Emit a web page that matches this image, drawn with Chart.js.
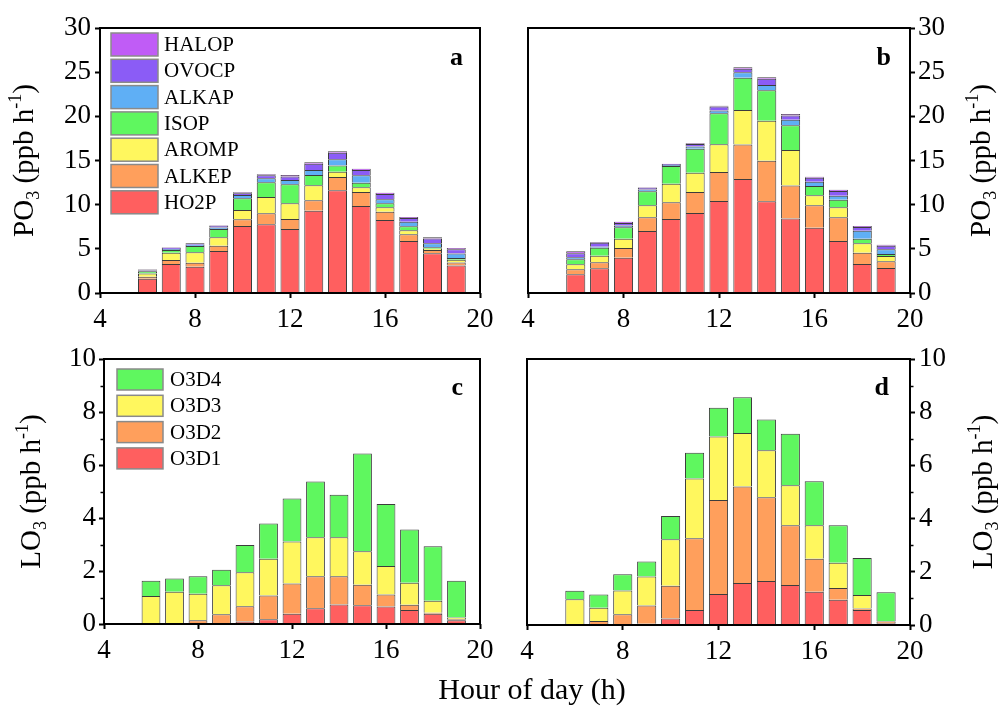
<!DOCTYPE html>
<html><head><meta charset="utf-8">
<script src="https://cdn.jsdelivr.net/npm/chart.js@4.4.0/dist/chart.umd.min.js"></script>
<style>
html,body{margin:0;padding:0;background:#fff;width:1000px;height:708px;overflow:hidden;}
canvas{position:absolute;left:0;top:0;}
</style></head><body>
<canvas id="ca" width="1000" height="708"></canvas>
<canvas id="cb" width="1000" height="708"></canvas>
<canvas id="cc" width="1000" height="708"></canvas>
<canvas id="cd" width="1000" height="708"></canvas>
<script>
const hours = [6,7,8,9,10,11,12,13,14,15,16,17,18,19];
const poLabels = ['HO2P','ALKEP','AROMP','ISOP','ALKAP','OVOCP','HALOP'];
const loLabels = ['O3D1','O3D2','O3D3','O3D4'];
const xTitle = 'Hour of day (h)';
const poTitle = [['PO',0],['3',1],[' (ppb h',0],['-1',2],[')',0]];
const loTitle = [['LO',0],['3',1],[' (ppb h',0],['-1',2],[')',0]];

// Panel a (PO3)
const aHO2P  = [1.60,3.28,2.98,4.76,7.59,7.78,7.25,9.32,11.63,9.85,8.27,5.89,4.50,3.10];
const aALKEP = [0.25,0.45,0.45,0.60,0.75,1.24,1.13,1.18,1.51,1.59,0.94,0.75,0.37,0.36];
const aAROMP = [0.35,0.83,1.17,0.95,1.06,1.85,1.78,1.70,0.60,0.53,0.49,0.46,0.15,0.30];
const aISOP  = [0.25,0.30,0.72,0.94,1.32,1.67,2.15,1.16,0.68,0.52,0.46,0.45,0.15,0.20];
const aALKAP = [0.10,0.12,0.15,0.17,0.38,0.45,0.49,0.57,0.72,0.84,0.45,0.53,0.45,0.50];
const aOVOCP = [0.10,0.15,0.15,0.20,0.20,0.35,0.40,0.70,0.75,0.60,0.60,0.42,0.55,0.50];
const aHALOP = [0.05,0.05,0.05,0.05,0.10,0.10,0.17,0.17,0.16,0.15,0.15,0.11,0.13,0.13];

// Panel b (PO3)
const bHO2P  = [2.12,2.80,4.00,7.02,8.38,9.06,10.42,12.91,10.38,8.42,7.40,5.89,3.28,2.83];
const bALKEP = [0.56,0.68,1.10,1.55,1.89,2.38,3.28,3.89,4.60,3.74,2.53,2.68,1.29,0.76];
const bAROMP = [0.57,0.75,1.05,1.36,2.11,2.18,3.14,3.92,4.53,4.04,1.13,1.13,1.06,0.60];
const bISOP  = [0.56,0.90,1.29,1.59,2.00,2.72,3.51,3.66,3.44,2.80,1.06,0.87,0.52,0.23];
const bALKAP = [0.23,0.10,0.19,0.20,0.10,0.25,0.30,0.61,0.60,0.60,0.48,0.43,0.91,0.53];
const bOVOCP = [0.45,0.45,0.30,0.20,0.12,0.28,0.45,0.40,0.70,0.50,0.45,0.55,0.40,0.40];
const bHALOP = [0.23,0.10,0.14,0.05,0.04,0.08,0.11,0.17,0.18,0.17,0.12,0.15,0.12,0.12];

// Panel c (LO3)
const cO3D1 = [0.00,0.01,0.02,0.03,0.09,0.18,0.39,0.59,0.74,0.71,0.66,0.53,0.39,0.14];
const cO3D2 = [0.02,0.03,0.12,0.34,0.58,0.90,1.14,1.21,1.06,0.77,0.45,0.20,0.03,0.04];
const cO3D3 = [1.04,1.18,1.00,1.09,1.28,1.38,1.58,1.47,1.47,1.27,1.08,0.83,0.46,0.07];
const cO3D4 = [0.57,0.50,0.66,0.59,1.03,1.33,1.63,2.11,1.61,3.68,2.34,2.01,2.05,1.38];

// Panel d (LO3)
const dO3D1 = [0.00,0.02,0.01,0.05,0.24,0.56,1.17,1.58,1.65,1.50,1.25,0.95,0.56,0.07];
const dO3D2 = [0.00,0.13,0.39,0.68,1.24,2.70,3.53,3.63,3.15,2.25,1.24,0.44,0.06,0.06];
const dO3D3 = [0.97,0.50,0.90,1.09,1.74,2.25,2.39,2.01,1.77,1.50,1.26,0.95,0.51,0.02];
const dO3D4 = [0.32,0.50,0.61,0.57,0.88,0.97,1.08,1.34,1.16,1.94,1.65,1.41,1.39,1.08];

const poColors = ['#FF5F5F','#FF9F5C','#FFF75E','#5FF75F','#5FAFF5','#8B5CF6','#C05CF6'];
const loColors = ['#FF5F5F','#FF9F5C','#FFF75E','#5FF75F'];

const SERIF = '"Liberation Serif", "Times New Roman", serif';
const YW = 60, XH = 45;

const decor = {
  id: 'decor',
  afterDraw(chart, args, o) {
    const ctx = chart.ctx, ca = chart.chartArea;
    ctx.save();
    ctx.strokeStyle = '#000'; ctx.lineWidth = 2;
    ctx.strokeRect(ca.left, ca.top, ca.right - ca.left, ca.bottom - ca.top);
    if (o.minor) {
      const ys = chart.scales.y;
      ctx.lineWidth = 1.5;
      for (let v = o.minor.start; v < ys.max; v += o.minor.step) {
        const py = Math.round(ys.getPixelForValue(v)) + 0.5;
        const x0 = o.side === 'left' ? ca.left : ca.right;
        const x1 = o.side === 'left' ? ca.left - 3.5 : ca.right + 3.5;
        ctx.beginPath(); ctx.moveTo(x0, py); ctx.lineTo(x1, py); ctx.stroke();
      }
    }
    if (o.legend) {
      const L = o.legend;
      const ds = chart.data.datasets.slice().reverse();
      ctx.font = L.font + 'px ' + SERIF;
      ctx.textBaseline = 'middle'; ctx.textAlign = 'left';
      ds.forEach((d, i) => {
        const y = L.y + i * L.step;
        ctx.fillStyle = d.backgroundColor;
        ctx.fillRect(L.x, y, L.w, L.h);
        ctx.strokeStyle = '#8a8a8a'; ctx.lineWidth = 1.5;
        ctx.strokeRect(L.x, y, L.w, L.h);
        ctx.fillStyle = '#000';
        ctx.fillText(d.label, L.tx, y + L.h / 2 + 1);
      });
    }
    if (o.letter) {
      ctx.font = 'bold 26px ' + SERIF;
      ctx.fillStyle = '#000'; ctx.textAlign = 'right'; ctx.textBaseline = 'alphabetic';
      ctx.fillText(o.letter.text, o.letter.x, o.letter.y);
    }
    if (o.title) {
      const T = o.title, fs = T.size, small = Math.round(fs * 0.62);
      const fonts = [fs + 'px ' + SERIF, small + 'px ' + SERIF, small + 'px ' + SERIF];
      const offs = [0, fs * 0.22, -fs * 0.40];
      let total = 0;
      T.parts.forEach(p => { ctx.font = fonts[p[1]]; total += ctx.measureText(p[0]).width; });
      ctx.translate(T.x, (ca.top + ca.bottom) / 2);
      ctx.rotate(-Math.PI / 2);
      ctx.fillStyle = '#000'; ctx.textAlign = 'left'; ctx.textBaseline = 'alphabetic';
      let cx = -total / 2;
      T.parts.forEach(p => {
        ctx.font = fonts[p[1]];
        ctx.fillText(p[0], cx, offs[p[1]]);
        cx += ctx.measureText(p[0]).width;
      });
      ctx.setTransform(1, 0, 0, 1, 0, 0);
    }
    if (o.xtitle) {
      ctx.font = '30px ' + SERIF;
      ctx.fillStyle = '#000'; ctx.textAlign = 'center'; ctx.textBaseline = 'alphabetic';
      ctx.fillText(o.xtitle.text, o.xtitle.x, o.xtitle.y);
    }
    ctx.restore();
  }
};

function makePanel(id, area, ymax, ystep, side, labels, series, colors, deco, ypad) {
  const datasets = labels.map((lab, k) => ({
    label: lab,
    data: hours.map((h, i) => ({x: h, y: series[k][i]})),
    backgroundColor: colors[k],
    borderColor: '#3c3c3c',
    borderWidth: 1,
    barPercentage: 0.8,
    categoryPercentage: 1.0
  }));
  deco.side = side;
  const pad = {
    left: side === 'left' ? area[0] - YW : area[0],
    right: side === 'right' ? 1000 - area[2] - YW : 1000 - area[2],
    top: area[1],
    bottom: 708 - area[3] - XH
  };
  return new Chart(document.getElementById(id), {
    type: 'bar',
    data: { datasets },
    options: {
      responsive: false, animation: false, events: [],
      devicePixelRatio: 1,
      layout: { padding: pad },
      plugins: { legend: { display: false }, tooltip: { enabled: false }, decor: deco },
      scales: {
        x: {
          type: 'linear', min: 4, max: 20, stacked: true, offset: false,
          ticks: { stepSize: 4, autoSkip: false, color: '#000', padding: 6, maxRotation: 0,
                   font: { family: SERIF, size: 27 } },
          grid: { offset: false, drawOnChartArea: false, drawTicks: true, tickLength: 5, tickWidth: 2, tickColor: '#000' },
          border: { display: false },
          afterFit(s) { s.height = XH; }
        },
        y: {
          type: 'linear', position: side, min: 0, max: ymax, stacked: true,
          ticks: { stepSize: ystep, autoSkip: false, color: '#000', padding: ypad,
                   font: { family: SERIF, size: 27 } },
          grid: { drawOnChartArea: false, drawTicks: true, tickLength: 5, tickWidth: 2, tickColor: '#000' },
          border: { display: false },
          afterFit(s) { s.width = YW; }
        }
      }
    },
    plugins: [decor]
  });
}

makePanel('ca', [100, 28, 480, 293], 30, 5, 'left', poLabels,
  [aHO2P, aALKEP, aAROMP, aISOP, aALKAP, aOVOCP, aHALOP], poColors,
  { legend: { x: 111, y: 33, w: 47, h: 23, step: 26.3, tx: 164, font: 21 },
    letter: { text: 'a', x: 463, y: 65 },
    title: { x: 33, size: 29, parts: poTitle } }, 4);

makePanel('cb', [528, 28, 910, 293], 30, 5, 'right', poLabels,
  [bHO2P, bALKEP, bAROMP, bISOP, bALKAP, bOVOCP, bHALOP], poColors,
  { letter: { text: 'b', x: 891, y: 65 },
    title: { x: 990, size: 29, parts: poTitle } }, 3);

makePanel('cc', [104, 359, 480, 624], 10, 2, 'left', loLabels,
  [cO3D1, cO3D2, cO3D3, cO3D4], loColors,
  { legend: { x: 117, y: 369, w: 46, h: 21, step: 26.3, tx: 170, font: 21 },
    letter: { text: 'c', x: 463, y: 395 },
    minor: { start: 1, step: 2 },
    title: { x: 40, size: 29, parts: loTitle } }, 3);

makePanel('cd', [527, 359, 910, 625], 10, 2, 'right', loLabels,
  [dO3D1, dO3D2, dO3D3, dO3D4], loColors,
  { letter: { text: 'd', x: 889, y: 395 },
    minor: { start: 1, step: 2 },
    title: { x: 992, size: 29, parts: loTitle },
    xtitle: { text: xTitle, x: 532, y: 699 } }, 4);
</script>
</body></html>
